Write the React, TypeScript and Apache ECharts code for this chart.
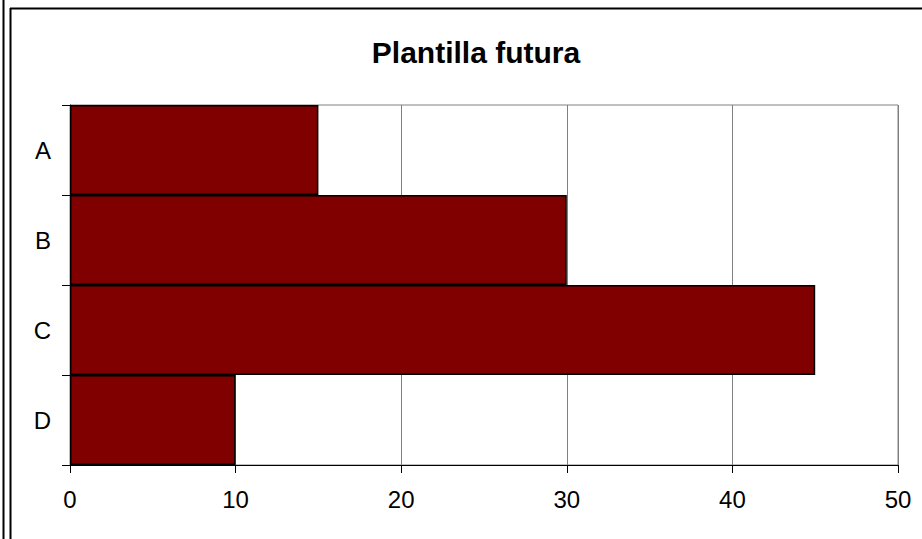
import React, { useEffect, useRef } from "react";
import * as echarts from "echarts";

const categories = ["A", "B", "C", "D"];
const values = [15, 30, 45, 10];
const titleText = "Plantilla futura";

export default function App() {
  const ref = useRef<HTMLDivElement>(null);
  useEffect(() => {
    if (!ref.current) return;
    const chart = echarts.init(ref.current, null, { renderer: "svg" });
    const font = "'Liberation Sans', Arial, sans-serif";
    chart.setOption({
      animation: false,
      backgroundColor: "#ffffff",
      title: {
        text: titleText,
        left: 471,
        textAlign: "center",
        top: 32,
        textStyle: { fontFamily: font, fontSize: 30, fontWeight: "bold", color: "#000" },
      },
      grid: {
        left: 70,
        top: 105,
        right: 24,
        bottom: 74,
        show: true,
        borderColor: "#808080",
        borderWidth: 1,
        backgroundColor: "#ffffff",
      },
      xAxis: {
        type: "value",
        min: 0,
        max: 50,
        interval: 10,
        axisLine: { show: true, lineStyle: { color: "#000", width: 1 } },
        axisTick: { show: true, length: 8, lineStyle: { color: "#000" } },
        splitLine: { show: true, lineStyle: { color: "#808080", width: 1 } },
        axisLabel: { fontFamily: font, fontSize: 24, color: "#000", margin: 22 },
      },
      yAxis: {
        type: "category",
        inverse: true,
        data: categories,
        axisLine: { show: true, lineStyle: { color: "#000", width: 1 } },
        axisTick: { show: true, length: 8, lineStyle: { color: "#000" } },
        axisLabel: { fontFamily: font, fontSize: 24, color: "#000", margin: 19, padding: [0, 0, 6, 0] },
      },
      series: [
        {
          type: "bar",
          data: values,
          barCategoryGap: "0%",
          itemStyle: { color: "#800000", borderColor: "#000", borderWidth: 1.5 },
        },
      ],
      graphic: [
        { type: "line", shape: { x1: 3.5, y1: 0, x2: 3.5, y2: 539 }, style: { stroke: "#000", lineWidth: 2 } },
        { type: "line", shape: { x1: 10.5, y1: 8, x2: 10.5, y2: 539 }, style: { stroke: "#000", lineWidth: 2 } },
        { type: "line", shape: { x1: 10, y1: 8.5, x2: 922, y2: 8.5 }, style: { stroke: "#000", lineWidth: 2 } },
      ],
    });
    return () => chart.dispose();
  }, []);
  return (
    <div
      ref={ref}
      style={{ position: "fixed", left: 0, top: 0, width: 922, height: 539 }}
    />
  );
}
